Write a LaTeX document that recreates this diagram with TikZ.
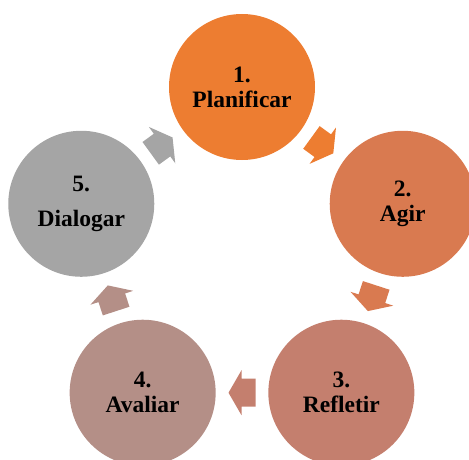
\documentclass[tikz,border=0pt]{standalone}
\usepackage{fontspec}
\setmainfont{Liberation Serif}
\usetikzlibrary{calc}
\definecolor{stepone}{HTML}{ED7D31}
\definecolor{steptwo}{HTML}{D97A50}
\definecolor{stepthree}{HTML}{C47F6E}
\definecolor{stepfour}{HTML}{B48F87}
\definecolor{stepfive}{HTML}{A5A5A5}
\tikzset{
  stage/.style={circle, minimum size=146pt, inner sep=0pt, align=center,
    font=\fontsize{23.5}{25}\selectfont\bfseries},
  pics/blockarrow/.style={code={
    \fill[#1] (-13.5,-14) -- (0.5,-14) -- (0.5,-22.5) -- (13.5,0)
      -- (0.5,22.5) -- (0.5,14) -- (-13.5,14) -- cycle;}}
}
\begin{document}
\begin{tikzpicture}[x=1pt,y=1pt]
\useasboundingbox (0,0) rectangle (469,459);
\coordinate (ctr) at (242,203);
% five stages on a ring
\node[stage, fill=stepone]   (s1) at ($(ctr)+(90:169)$)   {1.\\Planificar};
\node[stage, fill=steptwo]   (s2) at ($(ctr)+(18:169)$)   {2.\\Agir};
\node[stage, fill=stepthree] (s3) at ($(ctr)+(-54:169)$)  {3.\\Refletir};
\node[stage, fill=stepfour]  (s4) at ($(ctr)+(-126:169)$) {4.\\Avaliar};
\node[stage, fill=stepfive]  (s5) at ($(ctr)+(162:169)$)  {5.\\[10pt]Dialogar};
% block arrows half way between neighbouring stages
\coordinate (m12) at ($(s1)!0.5!(s2)$);
\coordinate (m23) at ($(s2)!0.5!(s3)$);
\coordinate (m34) at ($(s3)!0.5!(s4)$);
\coordinate (m45) at ($(s4)!0.5!(s5)$);
\coordinate (m51) at ($(s5)!0.5!(s1)$);
\pic[rotate=-36]  at (m12) {blockarrow=stepone};
\pic[rotate=-108] at (m23) {blockarrow=steptwo};
\pic[rotate=180]  at (m34) {blockarrow=stepthree};
\pic[rotate=108]  at (m45) {blockarrow=stepfour};
\pic[rotate=36]   at (m51) {blockarrow=stepfive};
\end{tikzpicture}
\end{document}
